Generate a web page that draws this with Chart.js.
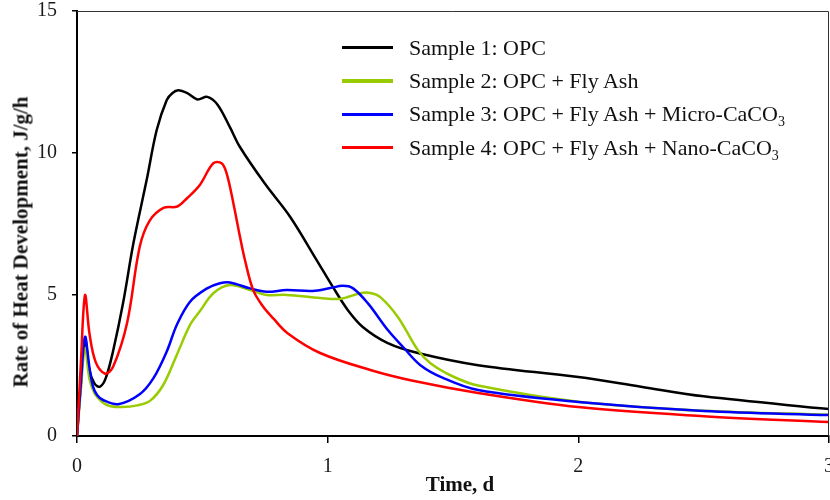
<!DOCTYPE html>
<html>
<head>
<meta charset="utf-8">
<script src="https://cdn.jsdelivr.net/npm/chart.js@4.4.1/dist/chart.umd.min.js"></script>
<style>
  body { margin: 0; background: #fff; }
  #wrap { position: relative; width: 830px; height: 500px; font-family: "Liberation Serif", "Times New Roman", serif; color: #111; }
  #ytitle { position: absolute; left: 21px; top: 242px; transform: translate(-50%, -50%) rotate(-90deg); white-space: nowrap; font-weight: bold; font-size: 21px; }
  #xtitle { position: absolute; left: 460px; top: 484px; transform: translate(-50%, -50%); white-space: nowrap; font-weight: bold; font-size: 21px; }
  #legend { position: absolute; left: 342px; top: 31px; font-size: 22px; }
  #legend .row { height: 33.3px; display: flex; align-items: center; white-space: nowrap; }
  #legend .swatch { width: 51px; height: 3px; margin-right: 16px; }
  #legend sub { font-size: 14px; vertical-align: -5px; line-height: 0; }
</style>
</head>
<body>
<div id="wrap">
  <canvas id="chart" width="830" height="500"></canvas>
  <div id="ytitle">Rate of Heat Development, J/g/h</div>
  <div id="xtitle">Time, d</div>
  <div id="legend"></div>
</div>
<script>
// series labels and colours
const seriesLabels = [
  'Sample 1: OPC',
  'Sample 2: OPC + Fly Ash',
  'Sample 3: OPC + Fly Ash + Micro-CaCO3',
  'Sample 4: OPC + Fly Ash + Nano-CaCO3'
];
const seriesColors = ['#000000', '#99cc00', '#0000ff', '#ff0000'];

// Sample 1: OPC
const time1 = [0, 0.015, 0.032, 0.05, 0.07, 0.092, 0.115, 0.144, 0.184, 0.225, 0.278, 0.318, 0.358, 0.38, 0.404, 0.44, 0.48, 0.52, 0.56, 0.61, 0.65, 0.75, 0.85, 0.956, 1.02, 1.08, 1.14, 1.24, 1.36, 1.6, 2.0, 2.25, 2.5, 3.0];
const heat1 = [0, 1.8, 3.4, 2.3, 1.85, 1.74, 2.05, 3.0, 4.7, 6.8, 9.04, 10.8, 11.86, 12.1, 12.2, 12.1, 11.88, 11.97, 11.7, 10.9, 10.2, 8.9, 7.74, 6.21, 5.27, 4.45, 3.85, 3.28, 2.93, 2.5, 2.08, 1.74, 1.4, 0.95];

// Sample 2: OPC + Fly Ash
const time2 = [0, 0.015, 0.032, 0.05, 0.07, 0.1, 0.13, 0.18, 0.24, 0.291, 0.344, 0.398, 0.451, 0.49, 0.544, 0.61, 0.69, 0.757, 0.836, 0.97, 1.05, 1.13, 1.17, 1.21, 1.28, 1.36, 1.41, 1.5, 1.6, 2.0, 2.5, 3.0];
const heat2 = [0, 1.6, 3.1, 2.0, 1.5, 1.2, 1.06, 1.02, 1.08, 1.24, 1.8, 2.86, 3.92, 4.4, 5.04, 5.33, 5.15, 4.98, 4.98, 4.87, 4.84, 5.04, 5.05, 4.9, 4.2, 3.03, 2.57, 2.1, 1.78, 1.21, 0.89, 0.75];

// Sample 3: OPC + Fly Ash + Micro-CaCO3
const time3 = [0, 0.015, 0.032, 0.05, 0.064, 0.08, 0.104, 0.164, 0.25, 0.305, 0.358, 0.398, 0.451, 0.517, 0.57, 0.61, 0.69, 0.757, 0.836, 0.94, 1.01, 1.06, 1.1, 1.16, 1.24, 1.3, 1.37, 1.46, 1.6, 2.0, 2.5, 3.0];
const heat3 = [0, 1.8, 3.5, 2.4, 1.74, 1.45, 1.27, 1.12, 1.47, 2.04, 2.98, 3.92, 4.74, 5.2, 5.39, 5.42, 5.21, 5.09, 5.15, 5.12, 5.22, 5.3, 5.22, 4.69, 3.74, 3.15, 2.5, 2.05, 1.62, 1.2, 0.88, 0.74];

// Sample 4: OPC + Fly Ash + Nano-CaCO3
const time4 = [0, 0.015, 0.032, 0.05, 0.075, 0.112, 0.144, 0.2, 0.25, 0.29, 0.345, 0.40, 0.44, 0.49, 0.544, 0.577, 0.597, 0.624, 0.65, 0.67, 0.703, 0.743, 0.783, 0.84, 0.97, 1.17, 1.34, 1.6, 2.0, 2.5, 3.0];
const heat4 = [0, 2.5, 4.97, 3.6, 2.6, 2.2, 2.44, 4.0, 6.67, 7.6, 8.05, 8.1, 8.4, 8.86, 9.63, 9.63, 9.27, 8.21, 7.04, 6.21, 5.15, 4.56, 4.15, 3.63, 2.93, 2.33, 1.95, 1.52, 1.02, 0.7, 0.49];

const xTicks = [0, 1, 2, 3];
const yTicks = [0, 5, 10, 15];

const times = [time1, time2, time3, time4];
const heats = [heat1, heat2, heat3, heat4];
const drawOrder = [4, 3, 2, 1];

const datasets = seriesLabels.map((label, i) => ({
  label: label,
  data: times[i].map((t, j) => ({ x: t, y: heats[i][j] })),
  borderColor: seriesColors[i],
  backgroundColor: seriesColors[i],
  borderWidth: 2.5,
  pointRadius: 0,
  showLine: true,
  tension: 0.35,
  order: drawOrder[i]
}));

// legend as html so the subscript 3 stays real text
const legendEl = document.getElementById('legend');
seriesLabels.forEach((label, i) => {
  const row = document.createElement('div');
  row.className = 'row';
  const sw = document.createElement('span');
  sw.className = 'swatch';
  sw.style.background = seriesColors[i];
  if (i === 1) sw.style.height = '4px';
  const txt = document.createElement('span');
  txt.innerHTML = label.replace('CaCO3', 'CaCO<sub>3</sub>');
  row.appendChild(sw);
  row.appendChild(txt);
  legendEl.appendChild(row);
});

const boxPlugin = {
  id: 'box',
  afterDraw(chart) {
    const { ctx, chartArea: a } = chart;
    ctx.save();
    ctx.strokeStyle = '#333';
    ctx.lineWidth = 1;
    ctx.beginPath();
    ctx.moveTo(a.left, a.top + 0.5);
    ctx.lineTo(a.right - 0.5, a.top + 0.5);
    ctx.lineTo(a.right - 0.5, a.bottom);
    ctx.stroke();
    ctx.restore();
  }
};

const tickFont = { family: '"Liberation Serif", "Times New Roman", serif', size: 20 };

new Chart(document.getElementById('chart'), {
  type: 'scatter',
  data: { datasets: datasets },
  options: {
    responsive: false,
    animation: false,
    devicePixelRatio: 1,
    layout: { padding: { left: 0, right: 1, top: 11, bottom: 0 } },
    plugins: { legend: { display: false }, tooltip: { enabled: false } },
    scales: {
      x: {
        type: 'linear',
        min: 0,
        max: 3,
        afterBuildTicks: s => { s.ticks = xTicks.map(v => ({ value: v })); },
        afterFit: s => { s.height = 64; s.paddingLeft = 0; s.paddingRight = 0; },
        ticks: { font: tickFont, color: '#1a1a1a', padding: 12, maxRotation: 0 },
        grid: { drawOnChartArea: false, drawTicks: true, tickLength: 7, color: '#000', lineWidth: 1.5 },
        border: { color: '#000', width: 2 }
      },
      y: {
        type: 'linear',
        min: 0,
        max: 15,
        afterBuildTicks: s => { s.ticks = yTicks.map(v => ({ value: v })); },
        afterFit: s => { s.width = 77; s.paddingTop = 0; s.paddingBottom = 0; },
        ticks: { font: tickFont, color: '#1a1a1a', padding: 15 },
        grid: { drawOnChartArea: false, drawTicks: true, tickLength: 5, color: '#000', lineWidth: 1.5 },
        border: { color: '#000', width: 2 }
      }
    }
  },
  plugins: [boxPlugin]
});
</script>
</body>
</html>
